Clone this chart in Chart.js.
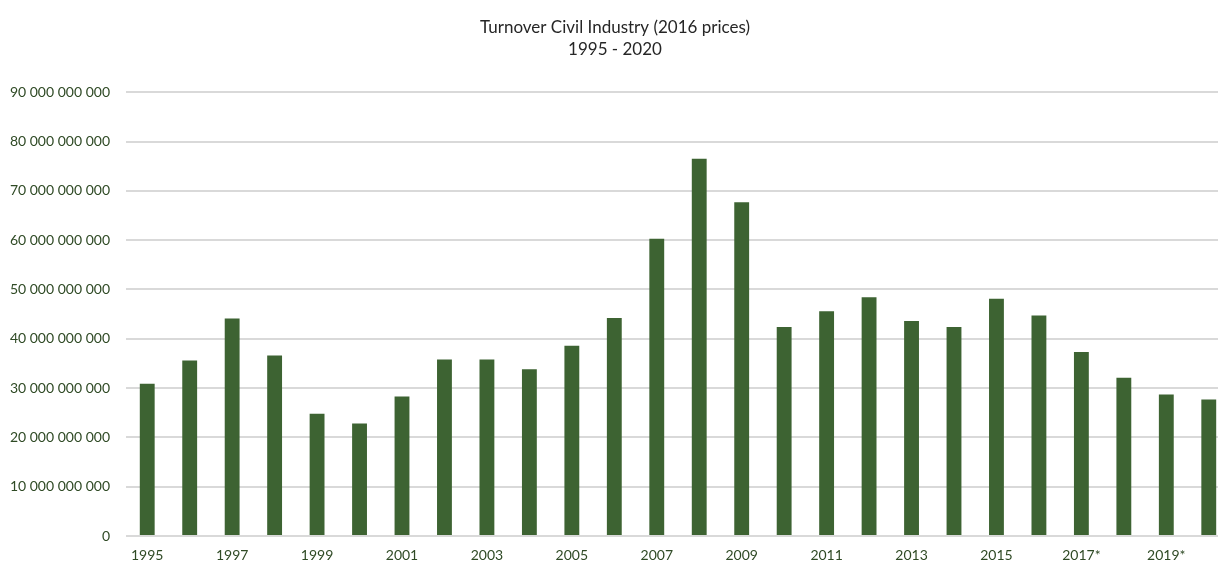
<!DOCTYPE html>
<html>
<head>
<meta charset="utf-8">
<script src="https://cdn.jsdelivr.net/npm/chart.js@4"></script>
<style>
    html, body { margin: 0; padding: 0; background: #fff; overflow: hidden; }
    #wrap { width: 1252px; height: 563px; }
</style>
</head>
<body>
<div id="wrap"><canvas id="turnover-chart" width="1252" height="563"></canvas></div>
<script>
// Данные графика
const years = ['1995', '1996', '1997', '1998', '1999', '2000', '2001', '2002', '2003', '2004',
    '2005', '2006', '2007', '2008', '2009', '2010', '2011', '2012', '2013', '2014',
    '2015', '2016', '2017*', '2018*', '2019*', '2020*'];
const turnover = [30.9, 35.6, 44.1, 36.6, 24.8, 22.8, 28.3, 35.8, 35.8, 33.8,
    38.6, 44.2, 60.3, 76.5, 67.7, 42.4, 45.6, 48.4, 43.6, 42.4,
    48.1, 44.7, 37.3, 32.1, 28.7, 27.7].map(v => v * 1e9);
const titleLines = ['Turnover Civil Industry (2016 prices)', '1995 - 2020'];

function formatSpaces(value) {
    return Math.round(value).toString().replace(/\B(?=(\d{3})+(?!\d))/g, ' ');
}

const ctx = document.getElementById('turnover-chart').getContext('2d');
window.turnoverChart = new Chart(ctx, {
    type: 'bar',
    data: {
        labels: years,
        datasets: [{
            label: 'Turnover',
            data: turnover,
            backgroundColor: '#3d6332',
            borderWidth: 0,
            barPercentage: 1,
            categoryPercentage: 0.35
        }]
    },
    options: {
        responsive: false,
        animation: false,
        layout: { padding: { left: 0, right: 22, top: 0, bottom: 0 } },
        plugins: {
            legend: { display: false },
            tooltip: { enabled: false },
            title: {
                display: true,
                text: titleLines,
                color: '#262626',
                font: { family: 'Lato', size: 17, weight: 'normal', lineHeight: 1.3 },
                padding: { top: 16, bottom: 32 }
            }
        },
        scales: {
            x: {
                grid: { display: false, drawTicks: false },
                border: { display: false },
                ticks: {
                    autoSkip: false,
                    maxRotation: 0,
                    color: '#2f4a25',
                    font: { family: 'Lato', size: 14 },
                    padding: 11,
                    callback: function(value, index) {
                        return index % 2 === 0 ? this.getLabelForValue(value) : '';
                    }
                },
                afterFit: function(scale) { scale.height = 27; }
            },
            y: {
                min: 0,
                max: 90e9,
                grid: { color: '#d9d9d9', lineWidth: 2, drawTicks: false },
                border: { display: false },
                ticks: {
                    stepSize: 10e9,
                    color: '#2f4a25',
                    font: { family: 'Lato', size: 14 },
                    padding: 16,
                    callback: value => formatSpaces(value)
                },
                afterFit: function(scale) { scale.width = 126; }
            }
        }
    }
});
</script>
</body>
</html>
